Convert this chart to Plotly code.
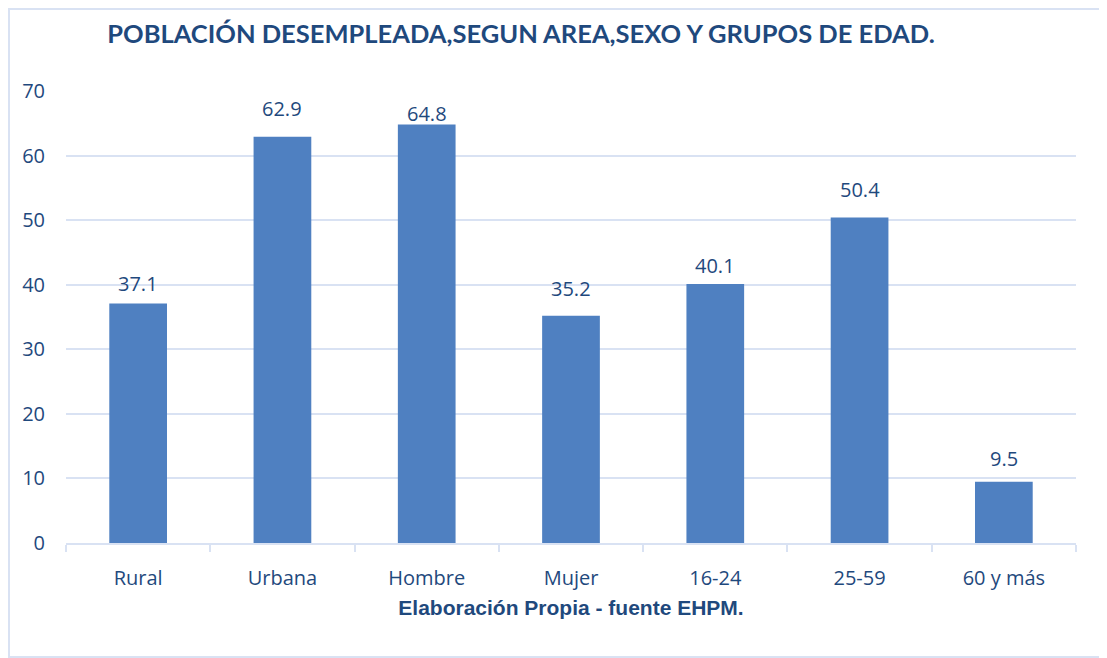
import plotly.graph_objects as go

# datos
categorias = ["Rural", "Urbana", "Hombre", "Mujer", "16-24", "25-59", "60 y más"]
valores = [37.1, 62.9, 64.8, 35.2, 40.1, 50.4, 9.5]
y_ticks = [0, 10, 20, 30, 40, 50, 60, 70]

# separación (px) entre la parte alta de la barra y el centro de la etiqueta
desplaz_etiqueta = [20, 28, 11, 27, 19, 28, 23]

AZUL_TEXTO = "#1f497d"
AZUL_BARRA = "#4f80c1"
GRID = "#d9e2f3"

# la página añade 8px de margen al body: la figura se dibuja algo más pequeña
W, H = 1099, 650

fig = go.Figure(go.Bar(
    x=categorias,
    y=valores,
    marker=dict(color=AZUL_BARRA, line=dict(width=0)),
    hovertemplate="%{x}: %{y}<extra></extra>",
))

# etiquetas de datos
for cat, val, dy in zip(categorias, valores, desplaz_etiqueta):
    fig.add_annotation(
        x=cat, y=val, text=f"{val:.1f}",
        showarrow=False, yanchor="middle", yshift=dy,
        font=dict(family="Open Sans, sans-serif", size=20, color=AZUL_TEXTO),
    )

fig.update_layout(
    width=W,
    height=H,
    paper_bgcolor="white",
    plot_bgcolor="white",
    margin=dict(l=58, r=31, t=83, b=115),
    bargap=0.6,
    showlegend=False,
    title=dict(
        text="<b>POBLACIÓN DESEMPLEADA,SEGUN AREA,SEXO Y GRUPOS DE EDAD.</b>",
        xref="container", x=513 / W, xanchor="center",
        yref="container", y=1 - 26 / H, yanchor="middle",
        font=dict(family="Lato, sans-serif", size=25.5, color=AZUL_TEXTO),
    ),
    xaxis=dict(
        tickson="boundaries",
        ticks="outside",
        ticklen=7,
        tickwidth=2,
        tickcolor=GRID,
        showline=True,
        linecolor=GRID,
        linewidth=2,
        showgrid=False,
        ticklabelstandoff=16,
        tickfont=dict(family="Open Sans, sans-serif", size=20, color=AZUL_TEXTO),
        title=dict(
            text="<b>Elaboración Propia - fuente EHPM.</b>",
            font=dict(family="Liberation Sans, Arial, sans-serif", size=21, color=AZUL_TEXTO),
            standoff=10,
        ),
    ),
    yaxis=dict(
        range=[0, 70],
        tickvals=y_ticks,
        showgrid=True,
        gridcolor=GRID,
        gridwidth=2,
        zeroline=False,
        ticks="",
        ticklabelstandoff=20,
        tickfont=dict(family="Open Sans, sans-serif", size=20, color=AZUL_TEXTO),
    ),
    shapes=[dict(
        type="rect", xref="paper", yref="paper",
        x0=-57 / 1010, x1=1 + 29 / 1010, y0=-114 / 452, y1=1 + 82 / 452,
        line=dict(color=GRID, width=2), fillcolor="rgba(0,0,0,0)",
    )],
)

fig.write_html("out.html")
